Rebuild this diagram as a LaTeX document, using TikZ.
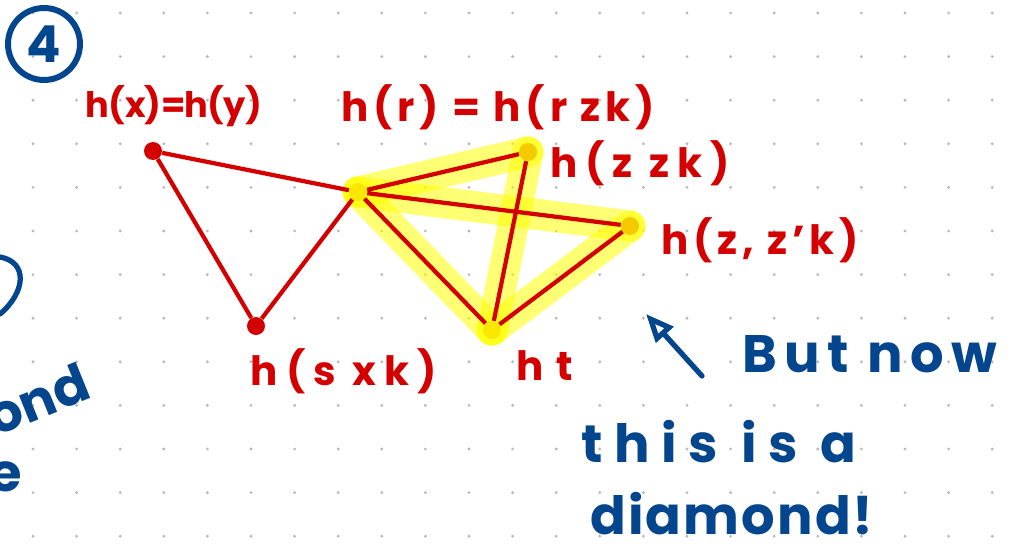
\documentclass[tikz,border=0pt]{standalone}
\usepackage{fontspec}
\setmainfont{Poppins}
\usepackage{tikz}
\usetikzlibrary{positioning}
\usetikzlibrary{arrows.meta}

\definecolor{inkred}{RGB}{212,0,0}
\definecolor{inkblue}{RGB}{4,70,142}
\definecolor{hilite}{RGB}{255,255,0}
\definecolor{griddot}{RGB}{185,185,185}

\tikzset{
  vtx/.style={circle, fill=inkred, inner sep=0pt, minimum size=0.36cm},
  edge/.style={inkred, line width=2.4pt},
  glow/.style={hilite, line width=0.62cm, line cap=round, opacity=0.55},
  redlbl/.style={inkred, font=\fontsize{23}{25}\selectfont\bfseries\addfontfeature{LetterSpace=#1}, inner sep=0pt},
  redlbl/.default=0,
  bluelbl/.style={inkblue, font=\fontsize{30}{32}\selectfont\bfseries\addfontfeature{LetterSpace=#1}, inner sep=0pt},
  bluelbl/.default=0,
  ink/.style={inkblue, line width=3pt, line cap=round},
}

\begin{document}
\begin{tikzpicture}[x=0.02cm, y=-0.02cm]
    \useasboundingbox (0,0) rectangle (1011,558);
    \clip (0,0) rectangle (1011,558);
    \fill[white] (0,0) rectangle (1011,558);

    % dotted paper
    \foreach \i in {0,...,22}
        \foreach \j in {0,...,12}
            \fill[griddot] ({33+43.6*\i},{13+43.6*\j}) circle (0.9pt);

    \node[draw=inkblue, line width=3.4pt, circle, minimum size=1.44cm, inner sep=0pt, text=inkblue, font=\fontsize{29}{31}\selectfont\bfseries] (num) at (44,44) {4};

    % the graph
    \node[vtx] (x) at (153,151) {};
    \node[vtx] (s) at (256,326) {};
    \node[vtx] (r) at (358,192) {};
    \node[vtx] (z) at (528,152) {};
    \node[vtx] (zp) at (630,226) {};
    \node[vtx] (t) at (492,330) {};

    % highlighted diamond
    \draw[glow] (r.center) -- (z.center);
    \draw[glow] (r.center) -- (zp.center);
    \draw[glow] (r.center) -- (t.center);
    \draw[glow] (z.center) -- (t.center);
    \draw[glow] (zp.center) -- (t.center);

    \draw[edge] (x) -- (r) (x) -- (s) (s) -- (r);
    \draw[edge] (r) -- (z) (r) -- (zp) (r) -- (t);
    \draw[edge] (z) -- (t) (zp) -- (t);

    \node[redlbl, font=\fontsize{20}{22}\selectfont\bfseries\addfontfeature{LetterSpace=-2}] (lblx) at (174,106) {h(x)=h(y)};
    \node[redlbl=12] (lblr) at (498,107) {h(r) = h(r zk)};
    \node[redlbl=20] (lblz) at (640,163) {h(z zk)};
    \node[redlbl=12] (lblzp) at (760,240) {h(z, z'k)};
    \node[redlbl=20] (lbls) at (344,371) {h(s xk)};
    \node[redlbl=10] (lblt) at (545,366) {h t};

    % note in blue
    \coordinate (arrtail) at (702,376);
    \coordinate (arrhead) at (646,314);
    \draw[ink, -{Triangle[open, length=16pt, width=13pt]}] (arrtail) -- (arrhead);

    \node[bluelbl=14] (but) at (870,354) {But now};
    \node[bluelbl=22] (this) at (719,442) {this is a};
    \node[bluelbl=4] (diam) at (732,514) {diamond!};

    % cut off at the left edge
    \draw[ink] (0,257) .. controls (28,262) and (26,292) .. (0,314);
    \node[bluelbl, anchor=south east, rotate=22] (cut1) at (94,398) {diamond};
    \node[bluelbl, anchor=east] (cut2) at (22,472) {the};
\end{tikzpicture}
\end{document}
